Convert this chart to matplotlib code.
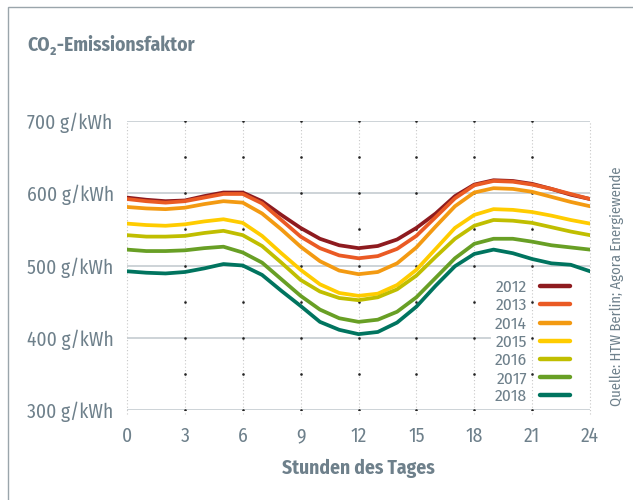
import matplotlib
matplotlib.use("Agg")
import matplotlib.pyplot as plt
from matplotlib.patches import Rectangle

hours = list(range(25))

years = ["2012", "2013", "2014", "2015", "2016", "2017", "2018"]
colors = ["#8e1b1f", "#ea5a24", "#f39a12", "#ffcc00", "#c0be00", "#689f25", "#00745f"]

e2012 = [594, 591, 589, 590, 596, 601, 601, 589, 570, 552, 537, 528, 524, 527, 536, 552,
         572, 596, 612, 618, 617, 613, 606, 598, 592]
e2013 = [592, 589, 587, 589, 594, 599, 599, 586, 563, 540, 524, 514, 510, 513, 523, 541,
         567, 593, 611, 617, 616, 612, 606, 599, 592]
e2014 = [581, 579, 578, 580, 585, 589, 587, 572, 550, 526, 506, 493, 488, 491, 503, 525,
         554, 582, 601, 607, 606, 602, 595, 588, 582]
e2015 = [558, 556, 555, 557, 561, 564, 559, 541, 517, 494, 474, 462, 458, 461, 473, 494,
         523, 552, 570, 578, 577, 574, 569, 563, 558]
e2016 = [542, 540, 540, 541, 545, 548, 542, 527, 504, 480, 464, 455, 452, 456, 467, 486,
         512, 537, 555, 563, 562, 559, 553, 547, 542]
e2017 = [522, 520, 520, 521, 524, 526, 518, 504, 481, 458, 439, 427, 422, 425, 436, 456,
         483, 510, 530, 537, 537, 533, 528, 525, 522]
e2018 = [492, 490, 489, 491, 496, 502, 500, 487, 465, 444, 422, 411, 405, 408, 421, 443,
         472, 499, 516, 522, 517, 509, 503, 501, 492]
series = [e2012, e2013, e2014, e2015, e2016, e2017, e2018]

y_ticks = [300, 400, 500, 600, 700]
y_labels = [f"{v} g/kWh" for v in y_ticks]
x_ticks = list(range(0, 25, 3))

GREY = "#6e808b"
plt.rcParams["font.family"] = ["Fira Sans Condensed", "DejaVu Sans"]

fig = plt.figure(figsize=(6.33, 5.0), dpi=100)
fig.patches.append(Rectangle((8 / 633, -0.1), 1.2, 1 - 7 / 500 + 0.1, transform=fig.transFigure,
                             fill=False, edgecolor="#9aa5ab", lw=1.0))
ax = fig.add_axes([127 / 633, 90 / 500, 463 / 633, 289 / 500])
ax.set_xlim(0, 24)
ax.set_ylim(300, 700)
for s in ax.spines.values():
    s.set_visible(False)

# grid: solid horizontals, dotted verticals with black dots every 50 g/kWh
for v in y_ticks:
    xmax = 18.8 / 24 if v == 400 else 1.0
    ax.axhline(v, xmin=0, xmax=xmax, color="#c9d0d4", lw=1.3, zorder=1)
for h in x_ticks:
    ax.plot([h, h], [294, 700], color="#c8c8c8", lw=0.8, ls=(0, (1, 2)), zorder=1, clip_on=False)
dot_y = list(range(300, 701, 50))
for h in x_ticks[1:-1]:
    ax.plot([h] * len(dot_y), dot_y, ls="none", marker="s", ms=0.8, color="#222222", zorder=1.5)

for yr, c, vals in zip(years, colors, series):
    ax.plot(hours, vals, color=c, lw=2.7, label=yr, zorder=3)

ax.set_xticks(x_ticks)
ax.set_xticklabels([str(h) for h in x_ticks])
ax.set_yticks(y_ticks)
ax.set_yticklabels(y_labels, ha="left")
ax.tick_params(axis="both", length=0, colors=GREY, labelsize=14)
ax.tick_params(axis="y", pad=72)
ax.tick_params(axis="x", pad=12)
ax.set_xlabel("Stunden des Tages", color=GREY, fontsize=14, fontweight="bold", labelpad=9)

leg = ax.legend(loc="lower right", bbox_to_anchor=(0.968, 0.0), frameon=False, markerfirst=False,
                handlelength=1.72, handletextpad=0.75, labelspacing=0.13, fontsize=12.5,
                borderaxespad=0.0, borderpad=0.3)
for t in leg.get_texts():
    t.set_color(GREY)
for l in leg.get_lines():
    l.set_linewidth(3.2)
    l.set_solid_capstyle("round")

fig.text(27 / 633, 1 - 45 / 500, "CO\u2082-Emissionsfaktor", color=GREY, fontsize=14,
         fontweight="bold", va="center", ha="left")
fig.text(617 / 633, 1 - 286 / 500, "Quelle: HTW Berlin; Agora Energiewende", color=GREY,
         fontsize=10.5, rotation=90, va="center", ha="center")

fig.savefig("out.png", dpi=100)
